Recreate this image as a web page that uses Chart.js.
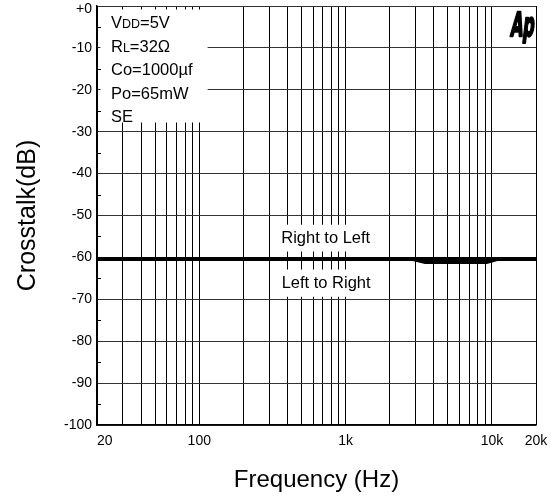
<!DOCTYPE html>
<html><head><meta charset="utf-8">
<style>html,body{margin:0;padding:0;background:#fff;overflow:hidden}canvas{display:block}</style>
<script src="https://cdn.jsdelivr.net/npm/chart.js@4/dist/chart.umd.min.js"></script>
</head><body>
<canvas id="c" width="551" height="499" style="width:551px;height:499px"></canvas>
<script>
// ---- data ----
const gridFrequencies = [20,30,40,50,60,70,80,90,100,200,300,400,500,600,700,800,900,1000,2000,3000,4000,5000,6000,7000,8000,9000,10000,20000];
const xTickValues = [20,100,1000,10000,20000];
const xTickLabels = ['    20','100','1k','10k','20k'];
const yTickValues = [0,-10,-20,-30,-40,-50,-60,-70,-80,-90,-100];
const yTickLabels = ['+0','-10','-20','-30','-40','-50','-60','-70','-80','-90','-100'];
const yMinorTicks = [-5,-15,-25,-35,-45,-55,-65,-75,-85,-95];
const freqRightToLeft = [20, 20000];
const crosstalkRightToLeft = [-60.4, -60.4];
const freqLeftToRight = [20, 2900, 3500, 9200, 10800, 20000];
const crosstalkLeftToRight = [-60.4, -60.4, -61.1, -61.1, -60.4, -60.4];
const conditionLines = [
  [['V',0],['DD',1],['=5V',0]],
  [['R',0],['L',1],['=32\u03A9',0]],
  [['Co=1000\u00B5f',0]],
  [['Po=65mW',0]],
  [['SE',0]]
];
const seriesLabels = ['Right to Left','Left to Right'];

const FONT = 'Liberation Sans, Arial, sans-serif';

const overlay = {
  id: 'overlay',
  beforeDatasetsDraw(chart) {
    const {ctx, chartArea: a, scales: {x, y}} = chart;
    ctx.save();
    ctx.fillStyle = '#fff';
    // condition box
    const bx1 = x.getPixelForValue(114), by1 = y.getPixelForValue(-27.8);
    ctx.fillRect(a.left + 3.5, a.top + 3.5, bx1 - a.left - 3.5, by1 - a.top - 3.5);
    // series label boxes
    const lx0 = x.getPixelForValue(306), lx1 = x.getPixelForValue(1920);
    let t = y.getPixelForValue(-52.2), b = y.getPixelForValue(-58.6);
    ctx.fillRect(lx0, t, lx1 - lx0, b - t);
    t = y.getPixelForValue(-62.9); b = y.getPixelForValue(-69.4);
    ctx.fillRect(lx0, t, lx1 - lx0, b - t);
    // minor y ticks
    ctx.strokeStyle = '#000'; ctx.lineWidth = 1;
    yMinorTicks.forEach(v => {
      const py = Math.round(y.getPixelForValue(v)) + 0.5;
      ctx.beginPath(); ctx.moveTo(a.left, py); ctx.lineTo(a.left + 4, py); ctx.stroke();
    });
    // condition text
    ctx.fillStyle = '#000';
    ctx.textBaseline = 'alphabetic';
    ctx.textAlign = 'left';
    conditionLines.forEach((parts, i) => {
      let px = a.left + 14;
      const base = a.top + 16 + i * 23.5 + 6;
      parts.forEach(([txt, small]) => {
        ctx.font = (small ? '12.5px ' : '16.5px ') + FONT;
        ctx.fillText(txt, px, base);
        px += ctx.measureText(txt).width;
      });
    });
    // series labels
    ctx.font = '16.5px ' + FONT;
    ctx.textAlign = 'center';
    ctx.textBaseline = 'middle';
    ctx.fillText(seriesLabels[0], x.getPixelForValue(731), y.getPixelForValue(-55.4));
    ctx.fillText(seriesLabels[1], x.getPixelForValue(736), y.getPixelForValue(-66.2));
    // logo
    ctx.save();
    ctx.translate(510, 36);
    ctx.transform(0.48, 0, -0.12, 1, 0, 0);
    ctx.textAlign = 'left';
    ctx.textBaseline = 'alphabetic';
    ctx.font = 'bold 33px "DejaVu Sans", ' + FONT;
    ctx.lineWidth = 2.4; ctx.strokeStyle = '#000'; ctx.lineJoin = 'round';
    ctx.strokeText('Ap', 0, 0);
    ctx.fillText('Ap', 0, 0);
    ctx.restore();
    ctx.restore();
  }
};

new Chart(document.getElementById('c'), {
  type: 'line',
  data: {
    datasets: [
      {label: seriesLabels[0], data: freqRightToLeft.map((f, i) => ({x: f, y: crosstalkRightToLeft[i]})),
       borderColor: '#000', borderWidth: 4, pointRadius: 0, tension: 0, fill: false},
      {label: seriesLabels[1], data: freqLeftToRight.map((f, i) => ({x: f, y: crosstalkLeftToRight[i]})),
       borderColor: '#000', borderWidth: 4, pointRadius: 0, tension: 0, fill: false}
    ]
  },
  options: {
    responsive: false, animation: false, devicePixelRatio: 1,
    layout: {padding: {top: 6, right: 15, bottom: 0, left: 0}},
    plugins: {legend: {display: false}, tooltip: {enabled: false}},
    scales: {
      x: {
        type: 'logarithmic', position: 'bottom', min: 20, max: 20000,
        afterBuildTicks: s => { s.ticks = gridFrequencies.map(v => ({value: v})); },
        afterFit: s => { s.height = 74; s.paddingLeft = 0; s.paddingRight = 0; },
        ticks: {
          autoSkip: false, maxRotation: 0, minRotation: 0, padding: 8, color: '#000',
          font: {family: FONT, size: 14},
          callback: v => { const k = xTickValues.indexOf(v); return k >= 0 ? xTickLabels[k] : ''; }
        },
        grid: {color: '#000', lineWidth: 1, drawTicks: false},
        border: {display: true, color: '#000', width: 1.5},
        title: {display: true, text: 'Frequency (Hz)', color: '#000', font: {family: FONT, size: 24}, padding: {top: 0, bottom: 4}}
      },
      y: {
        type: 'linear', min: -100, max: 0,
        afterBuildTicks: s => { s.ticks = yTickValues.map(v => ({value: v})); },
        afterFit: s => { s.width = 97; s.paddingTop = 0; s.paddingBottom = 0; },
        ticks: {
          padding: 5, color: '#000',
          font: ctx => (ctx.tick && ctx.tick.value === 0) ? {family: FONT, size: 14, lineHeight: 0.5} : {family: FONT, size: 14},
          callback: v => { const k = yTickValues.indexOf(v); if (k < 0) return ''; return v === 0 ? ['', yTickLabels[k]] : yTickLabels[k]; }
        },
        grid: {color: '#333', lineWidth: 1, drawTicks: false},
        border: {display: true, color: '#000', width: 1.5},
        title: {display: true, text: 'Crosstalk(dB)', color: '#000', font: {family: FONT, size: 25}, padding: {top: 13, bottom: 0}}
      }
    }
  },
  plugins: [overlay]
});
</script>
</body></html>
